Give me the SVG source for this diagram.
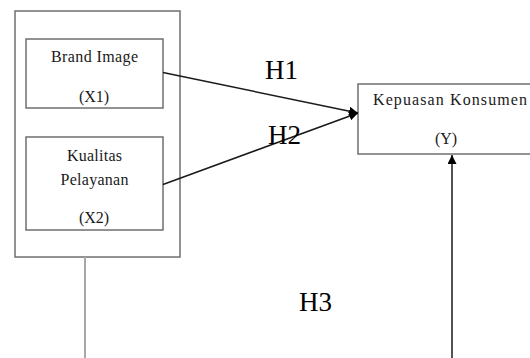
<svg xmlns="http://www.w3.org/2000/svg" width="530" height="358" viewBox="0 0 530 358">
  <style>
    .box { fill: #ffffff; stroke: #6f6f6f; stroke-width: 1.5; }
    .lbl { font-family: 'Liberation Serif', 'DejaVu Serif', serif; font-size: 16px; fill: #1a1a1a; text-anchor: middle; }
    .hyp { font-family: 'Liberation Serif', 'DejaVu Serif', serif; font-size: 27px; fill: #000000; }
    .link { stroke: #1a1a1a; stroke-width: 1.5; fill: none; }
    .stem { stroke: #a8a8a8; stroke-width: 2; fill: none; }
  </style>
  <defs>
    <marker id="head" viewBox="0 0 10 10" refX="10" refY="5" markerWidth="9" markerHeight="9" markerUnits="userSpaceOnUse" orient="auto">
      <path d="M0,0 L10,5 L0,10 z" fill="#000000"/>
    </marker>
  </defs>

  <rect width="530" height="358" fill="#ffffff"/>

  <!-- independent variables group -->
  <g id="group-x">
    <rect class="box" x="15" y="11" width="165" height="246"/>
  </g>

  <g id="node-x1">
    <rect class="box" x="26" y="39" width="137" height="69"/>
    <text class="lbl" x="94.5" y="61.5" textLength="87" lengthAdjust="spacing">Brand Image</text>
    <text class="lbl" x="94" y="102">(X1)</text>
  </g>

  <g id="node-x2">
    <rect class="box" x="26" y="137" width="137" height="93"/>
    <text class="lbl" x="94.5" y="160.5" textLength="55" lengthAdjust="spacing">Kualitas</text>
    <text class="lbl" x="94.5" y="185" textLength="68" lengthAdjust="spacing">Pelayanan</text>
    <text class="lbl" x="94" y="223">(X2)</text>
  </g>

  <g id="node-y">
    <rect class="box" x="358" y="84" width="180" height="70"/>
    <text class="lbl" x="450" y="105" textLength="154" lengthAdjust="spacing">Kepuasan Konsumen</text>
    <text class="lbl" x="446" y="144">(Y)</text>
  </g>

  <!-- connectors -->
  <g id="connectors">
    <line class="link" x1="163" y1="72.5" x2="358" y2="113" marker-end="url(#head)"/>
    <line class="link" x1="163" y1="184.5" x2="358" y2="113" marker-end="url(#head)"/>
    <line class="stem" x1="85" y1="257" x2="85" y2="358"/>
    <line class="link" x1="452" y1="358" x2="452" y2="155" marker-end="url(#head)"/>
    <text class="hyp" x="265" y="78.5">H1</text>
    <text class="hyp" x="268" y="143.5">H2</text>
    <text class="hyp" x="299" y="311">H3</text>
  </g>
</svg>
